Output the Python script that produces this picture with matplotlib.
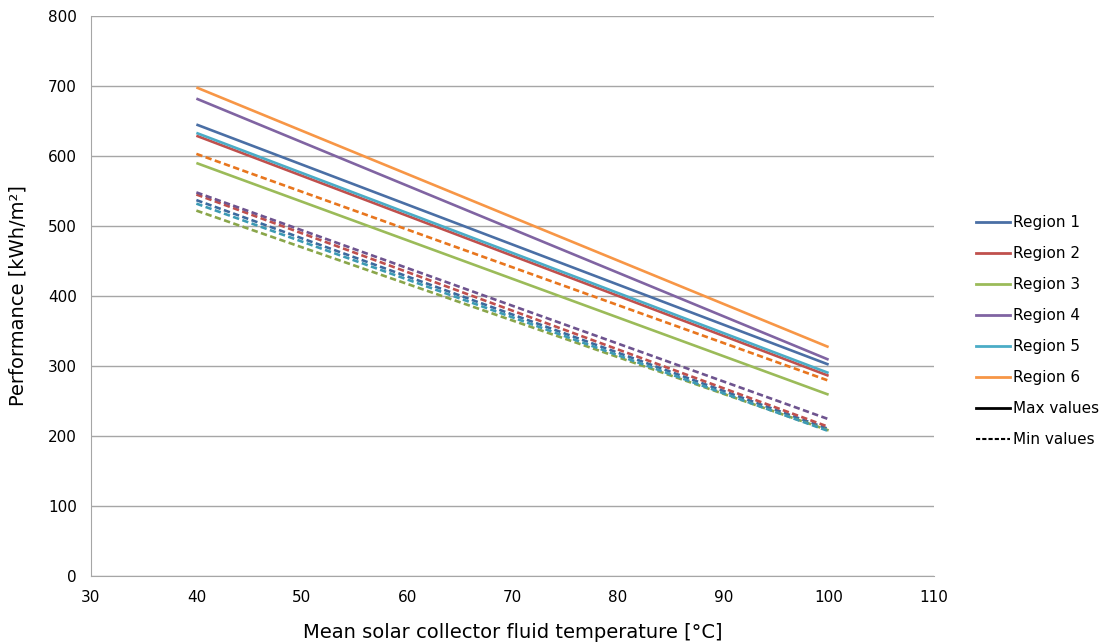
import numpy as np
from matplotlib import pyplot as plt
from matplotlib.lines import Line2D

plt.rcParams['font.family'] = ['DejaVu Sans']

temps = [40, 100]
regions = ['Region 1', 'Region 2', 'Region 3', 'Region 4', 'Region 5', 'Region 6']

# max values (solid) at 40 and 100 degC
max_vals = [
    [645, 302],
    [629, 286],
    [590, 259],
    [682, 309],
    [633, 290],
    [698, 327],
]
# min values (dashed)
min_vals = [
    [537, 210],
    [545, 213],
    [522, 208],
    [548, 224],
    [532, 207],
    [603, 279],
]

colors_max = ['#4A6FA5', '#C0504D', '#9BBB59', '#8064A2', '#4BACC6', '#F79646']
colors_min = ['#3C6A9E', '#C0504D', '#8AA64A', '#6E548F', '#3C9AB4', '#E8761E']

fig = plt.figure(figsize=(11.02, 6.43), dpi=100)
ax = fig.add_axes([91 / 1102, 1 - 576 / 643, (934 - 91) / 1102, (576 - 16) / 643])

for i in range(len(regions)):
    ax.plot(temps, max_vals[i], color=colors_max[i], lw=1.9, solid_capstyle='butt')
for i in range(len(regions)):
    ax.plot(temps, min_vals[i], color=colors_min[i], lw=1.9, ls=(0, (2.4, 1.3)))

ax.set_xlim(30, 110)
ax.set_ylim(0, 800)
ax.set_xticks(np.arange(30, 111, 10))
ax.set_yticks(np.arange(0, 801, 100))
ax.yaxis.grid(True, color='#A6A6A6', lw=1)
ax.set_axisbelow(True)
for s in ['top', 'right']:
    ax.spines[s].set_visible(False)
for s in ['left', 'bottom']:
    ax.spines[s].set_color('#A6A6A6')
ax.tick_params(axis='both', length=0, labelsize=11, colors='#000000')
ax.tick_params(axis='x', pad=10)
ax.tick_params(axis='y', pad=10)
ax.set_xlabel('Mean solar collector fluid temperature [°C]', fontsize=14, labelpad=13)
ax.set_ylabel('Performance [kWh/m²]', fontsize=14, labelpad=15)

handles = [Line2D([0], [0], color=c, lw=2) for c in colors_max]
handles.append(Line2D([0], [0], color='black', lw=2))
handles.append(Line2D([0], [0], color='black', lw=1.5, ls=(0, (2, 1))))
labels = regions + ['Max values', 'Min values']
fig.legend(handles, labels, loc='center left', bbox_to_anchor=(970 / 1102, 1 - 331 / 643),
           frameon=False, fontsize=11, handlelength=2.2, handletextpad=0.2,
           labelspacing=1.05, borderaxespad=0)

fig.savefig('out.png', dpi=100)
